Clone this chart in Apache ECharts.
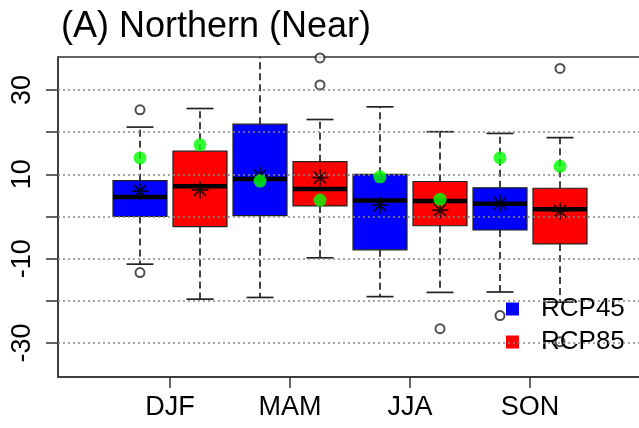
<!DOCTYPE html>
<html><head><meta charset="utf-8">
<script src="https://cdn.jsdelivr.net/npm/echarts@6/dist/echarts.min.js"></script>
<style>html,body{margin:0;padding:0;background:#fff}#c{width:639px;height:428px}</style>
</head><body><div id="c"></div>
<script>
const seasons = ['DJF', 'MAM', 'JJA', 'SON'];
const yTickValues = [-30, -20, -10, 0, 10, 20, 30];
const yLabelValues = [-30, -10, 10, 30];
const gridValues = [-30, -20, -10, 0, 10, 20, 30];

// RCP45 box statistics (lower whisker, Q1, median, Q3, upper whisker)
const rcp45Low   = [-11.3, -19.2, -19.0, -17.9];
const rcp45Q1    = [0.0, 0.2, -7.9, -3.2];
const rcp45Med   = [4.6, 8.9, 3.8, 3.0];
const rcp45Q3    = [8.5, 21.9, 10.0, 6.8];
const rcp45High  = [21.2, 45.0, 26.0, 19.7];
const rcp45Mean  = [6.0, 9.7, 2.7, 3.1];
const rcp45Green = [13.9, 8.4, 9.4, 13.9];
const rcp45Outliers = [[0, 25.3], [0, -13.3], [3, -23.5]];

// RCP85 box statistics
const rcp85Low   = [-19.6, -9.8, -18.0, -20.3];
const rcp85Q1    = [-2.4, 2.5, -2.2, -6.5];
const rcp85Med   = [7.2, 6.5, 3.7, 1.7];
const rcp85Q3    = [15.5, 13.0, 8.3, 6.7];
const rcp85High  = [25.6, 23.0, 20.1, 18.7];
const rcp85Mean  = [6.3, 9.2, 1.5, 1.3];
const rcp85Green = [17.0, 3.9, 4.1, 11.9];
const rcp85Outliers = [[1, 31.2], [1, 37.6], [2, -26.6], [3, 35.1], [3, -29.7]];

const FONT = 'Liberation Sans, Arial, sans-serif';
const pos = (i, k) => 2 * i + 1 + k;
const seasonPos = seasons.map((s, i) => 2 * i + 1.5);

function boxSeries(name, color, k, low, q1, med, q3, high) {
  return {
    name: name, type: 'custom', clip: true, z: 2,
    itemStyle: { color: color },
    data: seasons.map((s, i) => [pos(i, k), low[i], q1[i], med[i], q3[i], high[i]]),
    encode: { x: 0, y: [1, 2, 3, 4, 5] },
    renderItem: function (params, api) {
      const x = api.value(0);
      const pLow = api.coord([x, api.value(1)]);
      const pQ1 = api.coord([x, api.value(2)]);
      const pMed = api.coord([x, api.value(3)]);
      const pQ3 = api.coord([x, api.value(4)]);
      const pHigh = api.coord([x, api.value(5)]);
      const bw = api.size([0.9, 0])[0];
      const cw = api.size([0.45, 0])[0];
      const cx = pMed[0];
      const dash = { stroke: '#222', lineWidth: 1.7, lineDash: [7, 4] };
      const solid = { stroke: '#222', lineWidth: 1.7 };
      return {
        type: 'group', children: [
          { type: 'line', shape: { x1: cx, y1: pQ1[1], x2: cx, y2: pLow[1] }, style: dash },
          { type: 'line', shape: { x1: cx, y1: pQ3[1], x2: cx, y2: pHigh[1] }, style: dash },
          { type: 'line', shape: { x1: cx - cw / 2, y1: pLow[1], x2: cx + cw / 2, y2: pLow[1] }, style: solid },
          { type: 'line', shape: { x1: cx - cw / 2, y1: pHigh[1], x2: cx + cw / 2, y2: pHigh[1] }, style: solid },
          { type: 'rect', shape: { x: cx - bw / 2, y: pQ3[1], width: bw, height: pQ1[1] - pQ3[1] },
            style: { fill: color, stroke: '#222', lineWidth: 1.2 } },
          { type: 'line', shape: { x1: cx - bw / 2, y1: pMed[1], x2: cx + bw / 2, y2: pMed[1] },
            style: { stroke: '#000', lineWidth: 4.5 } }
        ]
      };
    }
  };
}

const starPath = 'path://M10,0L10,20M0,10L20,10M2.93,2.93L17.07,17.07M2.93,17.07L17.07,2.93';

const chart = echarts.init(document.getElementById('c'), null, { renderer: 'canvas' });
chart.setOption({
  animation: false,
  backgroundColor: '#fff',
  title: {
    text: '(A) Northern (Near)', left: 56, top: 4,
    textStyle: { fontSize: 36, fontWeight: 'normal', color: '#000', fontFamily: FONT }
  },
  legend: {
    data: ['RCP45', 'RCP85'], orient: 'vertical', left: 501, top: 291,
    itemWidth: 13, itemHeight: 13, itemGap: 7, icon: 'rect',
    textStyle: { fontSize: 26, color: '#000', fontFamily: FONT, padding: [0, 0, 0, 17] }
  },
  grid: { left: 58, top: 57, width: 584, height: 320, show: true, borderColor: '#333', borderWidth: 1.5,
          outerBoundsMode: 'none', containLabel: false },
  xAxis: {
    type: 'value', min: -11 / 30, max: 281 / 30,
    axisLine: { show: true, onZero: false, lineStyle: { color: '#333', width: 1.5 } }, splitLine: { show: false },
    axisTick: { show: true, length: 11, customValues: seasonPos, lineStyle: { color: '#333', width: 1.5 } },
    axisLabel: {
      customValues: seasonPos, fontSize: 27, color: '#000', fontFamily: FONT, margin: 17,
      formatter: v => seasons[Math.round((v - 1.5) / 2)]
    }
  },
  yAxis: {
    type: 'value', min: -38.06, max: 37.82,
    axisLine: { show: true, onZero: false, lineStyle: { color: '#333', width: 1.5 } }, splitLine: { show: false },
    axisTick: { show: true, length: 12, customValues: yTickValues, lineStyle: { color: '#333', width: 1.5 } },
    axisLabel: { customValues: yLabelValues, rotate: 90, fontSize: 27, color: '#000', fontFamily: FONT, margin: 22 }
  },
  series: [
    boxSeries('RCP45', '#0000FF', 0, rcp45Low, rcp45Q1, rcp45Med, rcp45Q3, rcp45High),
    boxSeries('RCP85', '#FF0000', 1, rcp85Low, rcp85Q1, rcp85Med, rcp85Q3, rcp85High),
    {
      name: 'outliers', type: 'scatter', z: 2, clip: false,
      symbol: 'emptyCircle', symbolSize: 9,
      itemStyle: { color: '#222', borderWidth: 1.3 },
      data: rcp45Outliers.map(o => [pos(o[0], 0), o[1]]).concat(rcp85Outliers.map(o => [pos(o[0], 1), o[1]]))
    },
    {
      name: 'grid', type: 'scatter', data: [], z: 3, silent: true,
      markLine: {
        silent: true, symbol: ['none', 'none'], label: { show: false },
        lineStyle: { type: [2, 3], color: '#888', width: 1.5 },
        data: gridValues.map(v => ({ yAxis: v }))
      }
    },
    {
      name: 'mean', type: 'scatter', z: 4, symbol: starPath, symbolSize: 17,
      itemStyle: { color: '#000', borderColor: '#000', borderWidth: 1.8 },
      data: rcp45Mean.map((v, i) => [pos(i, 0), v]).concat(rcp85Mean.map((v, i) => [pos(i, 1), v]))
    },
    {
      name: 'green', type: 'scatter', z: 5, symbol: 'circle', symbolSize: 13,
      itemStyle: { color: '#00FF00' },
      data: rcp45Green.map((v, i) => [pos(i, 0), v]).concat(rcp85Green.map((v, i) => [pos(i, 1), v]))
    }
  ]
});
</script>
</body></html>
